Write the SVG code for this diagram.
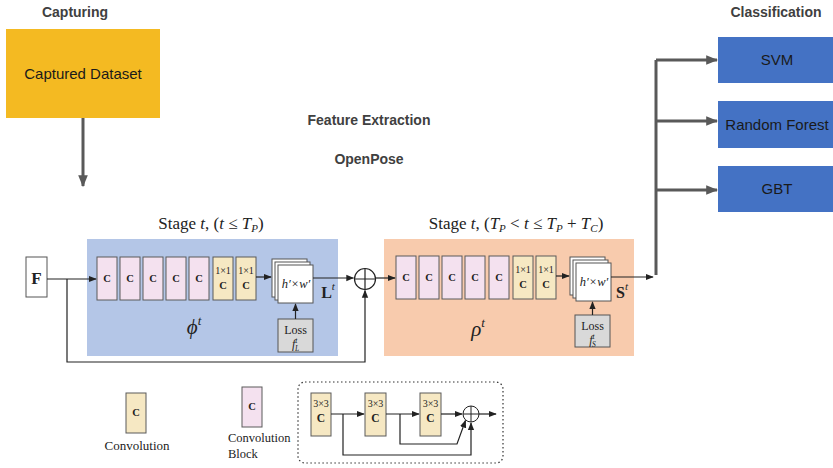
<svg xmlns="http://www.w3.org/2000/svg" width="833" height="468" viewBox="0 0 833 468">
  <style>
    .head { font-family: "Liberation Sans", Arial, sans-serif; font-weight: bold; font-size: 14px; fill: #404040; text-anchor: middle; }
    .lbl { font-family: "Liberation Sans", Arial, sans-serif; font-size: 15px; fill: #1a1a1a; text-anchor: middle; }
    .tex { font-family: "Liberation Serif", "DejaVu Serif", serif; fill: #222; text-anchor: middle; }
    .left { text-anchor: start; }
    .it { font-style: italic; }
    .blk { stroke: #5a5a5a; stroke-width: 1; }
    .pink { fill: #F4E1EF; }
    .yel { fill: #F6E8C3; }
    .sheet { fill: #fff; stroke: #555; stroke-width: 1; }
    .loss { fill: #D9D9D9; stroke: #555; stroke-width: 1; }
    .thin { fill: none; stroke: #222; stroke-width: 1.2; }
    .thick { fill: none; stroke: #595959; stroke-width: 3; }
    .cls { fill: #4472C4; }
  </style>
  <defs>
    <marker id="ah" viewBox="0 0 10 10" refX="9" refY="5" markerWidth="8" markerHeight="8" markerUnits="userSpaceOnUse" orient="auto">
      <path d="M0,1 L10,5 L0,9 z" fill="#222"/>
    </marker>
    <marker id="ahBig" viewBox="0 0 10 10" refX="9" refY="5" markerWidth="12" markerHeight="12" markerUnits="userSpaceOnUse" orient="auto">
      <path d="M0,1 L10,5 L0,9 z" fill="#595959"/>
    </marker>
  </defs>

  <!-- headings -->
  <text class="head" x="75" y="17">Capturing</text>
  <text class="head" x="369" y="125">Feature Extraction</text>
  <text class="head" x="369" y="164">OpenPose</text>
  <text class="head" x="776" y="17">Classification</text>

  <!-- capture source -->
  <g id="captured-dataset">
    <rect x="6" y="29" width="154" height="89" fill="#F4BA22"/>
    <text class="lbl" x="83" y="79">Captured Dataset</text>
  </g>

  <!-- classifiers -->
  <g id="svm">
    <rect class="cls" x="718" y="37" width="115" height="46"/>
    <text class="lbl" x="777" y="65">SVM</text>
  </g>
  <g id="random-forest">
    <rect class="cls" x="718" y="101" width="115" height="47"/>
    <text class="lbl" x="777" y="130">Random Forest</text>
  </g>
  <g id="gbt">
    <rect class="cls" x="718" y="166" width="115" height="46"/>
    <text class="lbl" x="777" y="194">GBT</text>
  </g>

  <!-- stage 1: part affinity fields -->
  <g id="stage-paf">
    <rect x="87" y="239" width="251" height="117" fill="#B4C6E7"/>
    <text class="tex" x="211" y="229" font-size="17">Stage <tspan class="it">t</tspan>, (<tspan class="it">t</tspan> ≤ <tspan class="it">T</tspan><tspan class="it" font-size="11" dy="3">P</tspan><tspan dy="-3">)</tspan></text>
    <g class="blk">
      <rect class="pink" x="97" y="257" width="20" height="43"/>
      <rect class="pink" x="120" y="257" width="20" height="43"/>
      <rect class="pink" x="143" y="257" width="20" height="43"/>
      <rect class="pink" x="166" y="257" width="20" height="43"/>
      <rect class="pink" x="189" y="257" width="20" height="43"/>
      <rect class="yel" x="213" y="257" width="20" height="43"/>
      <rect class="yel" x="236" y="257" width="20" height="43"/>
    </g>
    <g class="tex" font-size="10.5" font-weight="bold">
      <text x="107" y="282">C</text>
      <text x="130" y="282">C</text>
      <text x="153" y="282">C</text>
      <text x="176" y="282">C</text>
      <text x="199" y="282">C</text>
      <text x="223" y="289">C</text>
      <text x="246" y="289">C</text>
    </g>
    <g class="tex" font-size="10">
      <text x="223" y="274">1×1</text>
      <text x="246" y="274">1×1</text>
    </g>
    <rect class="sheet" x="272" y="259" width="35" height="38"/>
    <rect class="sheet" x="275" y="262" width="35" height="38"/>
    <rect class="sheet" x="278" y="265" width="35" height="38"/>
    <text class="tex it" x="296" y="288" font-size="12.5">h′×w′</text>
    <rect class="loss" x="278" y="319" width="35" height="33"/>
    <text class="tex" x="295.5" y="334" font-size="12">Loss</text>
    <text class="tex" x="295.5" y="348" font-size="12"><tspan class="it">f</tspan><tspan class="it" font-size="7.5" dy="-5">t</tspan><tspan class="it" font-size="7.5" dx="-2.5" dy="8">L</tspan></text>
    <text class="tex" x="328" y="298" font-size="16" font-weight="bold">L<tspan font-weight="normal" class="it" font-size="11" dy="-8">t</tspan></text>
    <text class="tex" x="194" y="334" font-size="21" fill="#3a4a7a"><tspan class="it">ϕ</tspan><tspan class="it" font-size="13" dy="-9">t</tspan></text>
  </g>

  <!-- stage 2: confidence maps -->
  <g id="stage-cmap">
    <rect x="384" y="239" width="250" height="117" fill="#F8CBAD"/>
    <text class="tex" x="516" y="229" font-size="17">Stage <tspan class="it">t</tspan>, (<tspan class="it">T</tspan><tspan class="it" font-size="11" dy="3">P</tspan><tspan dy="-3"> &lt; </tspan><tspan class="it">t</tspan> ≤ <tspan class="it">T</tspan><tspan class="it" font-size="11" dy="3">P</tspan><tspan dy="-3"> + </tspan><tspan class="it">T</tspan><tspan class="it" font-size="11" dy="3">C</tspan><tspan dy="-3">)</tspan></text>
    <g class="blk">
      <rect class="pink" x="396" y="256" width="20" height="43"/>
      <rect class="pink" x="419" y="256" width="20" height="43"/>
      <rect class="pink" x="442" y="256" width="20" height="43"/>
      <rect class="pink" x="465" y="256" width="20" height="43"/>
      <rect class="pink" x="489" y="256" width="20" height="43"/>
      <rect class="yel" x="513" y="256" width="20" height="43"/>
      <rect class="yel" x="536" y="256" width="20" height="43"/>
    </g>
    <g class="tex" font-size="10.5" font-weight="bold">
      <text x="406" y="281">C</text>
      <text x="429" y="281">C</text>
      <text x="452" y="281">C</text>
      <text x="475" y="281">C</text>
      <text x="499" y="281">C</text>
      <text x="523" y="288">C</text>
      <text x="546" y="288">C</text>
    </g>
    <g class="tex" font-size="10">
      <text x="523" y="273">1×1</text>
      <text x="546" y="273">1×1</text>
    </g>
    <rect class="sheet" x="570" y="257" width="35" height="38"/>
    <rect class="sheet" x="573" y="260" width="35" height="38"/>
    <rect class="sheet" x="576" y="263" width="35" height="38"/>
    <text class="tex it" x="594" y="286" font-size="12.5">h′×w′</text>
    <rect class="loss" x="575" y="315" width="35" height="32"/>
    <text class="tex" x="592.5" y="330" font-size="12">Loss</text>
    <text class="tex" x="592.5" y="344" font-size="12"><tspan class="it">f</tspan><tspan class="it" font-size="7.5" dy="-5">t</tspan><tspan class="it" font-size="7.5" dx="-2.5" dy="8">S</tspan></text>
    <text class="tex" x="622" y="298" font-size="16" font-weight="bold">S<tspan font-weight="normal" class="it" font-size="11" dy="-8">t</tspan></text>
    <text class="tex" x="478" y="336" font-size="21"><tspan class="it">ρ</tspan><tspan class="it" font-size="13" dy="-9">t</tspan></text>
  </g>

  <!-- input features -->
  <g id="input-f">
    <rect x="26" y="257" width="21" height="40" fill="#fff" stroke="#555" stroke-width="1"/>
    <text class="tex" x="36.5" y="284" font-size="17" font-weight="bold">F</text>
  </g>

  <!-- element-wise sum between stages -->
  <g id="sum">
    <circle cx="365" cy="279" r="10.5" fill="#fff" stroke="#222" stroke-width="1.2"/>
    <path d="M354.5,279 H375.5 M365,268.5 V289.5" stroke="#222" stroke-width="1.2"/>
  </g>

  <!-- legend -->
  <g id="legend-conv">
    <rect class="blk yel" x="126" y="393" width="20" height="40"/>
    <text class="tex" x="136" y="416" font-size="10.5" font-weight="bold">C</text>
    <text class="tex" x="137" y="450" font-size="13">Convolution</text>
  </g>
  <g id="legend-block">
    <rect class="blk pink" x="242" y="387" width="20" height="40"/>
    <text class="tex" x="252" y="410" font-size="10.5" font-weight="bold">C</text>
    <text class="tex left" x="228" y="442" font-size="12.5">Convolution</text>
    <text class="tex left" x="228" y="458" font-size="12.5">Block</text>
  </g>
  <g id="legend-block-detail">
    <rect x="298" y="382" width="205" height="81" rx="7" fill="none" stroke="#333" stroke-width="1.2" stroke-dasharray="1.5,2.5"/>
    <g class="blk">
      <rect class="yel" x="311" y="393" width="20" height="43"/>
      <rect class="yel" x="365" y="393" width="21" height="43"/>
      <rect class="yel" x="420" y="393" width="21" height="43"/>
    </g>
    <g class="tex" font-size="10">
      <text x="321" y="407">3×3</text>
      <text x="375.5" y="407">3×3</text>
      <text x="430.5" y="407">3×3</text>
    </g>
    <g class="tex" font-size="11.5" font-weight="bold">
      <text x="321" y="422">C</text>
      <text x="375.5" y="422">C</text>
      <text x="430.5" y="422">C</text>
    </g>
    <circle cx="471" cy="414" r="8" fill="#fff" stroke="#222" stroke-width="1"/>
    <path d="M463,414 H479 M471,406 V422" stroke="#222" stroke-width="1"/>
  </g>

  <!-- connectors -->
  <g id="connectors">
    <line class="thick" x1="83" y1="118" x2="83" y2="186" marker-end="url(#ahBig)"/>
    <path class="thick" d="M656,275 V60"/>
    <line class="thick" x1="656" y1="60" x2="717" y2="60" marker-end="url(#ahBig)"/>
    <line class="thick" x1="656" y1="121" x2="717" y2="121" marker-end="url(#ahBig)"/>
    <line class="thick" x1="656" y1="190" x2="717" y2="190" marker-end="url(#ahBig)"/>

    <line class="thin" x1="47" y1="279" x2="96" y2="279" marker-end="url(#ah)"/>
    <path class="thin" d="M67,279 V362 H365 V290.5" marker-end="url(#ah)"/>
    <line class="thin" x1="256" y1="277" x2="271" y2="277" marker-end="url(#ah)"/>
    <line class="thin" x1="313" y1="278" x2="353.5" y2="278" marker-end="url(#ah)"/>
    <line class="thin" x1="295.5" y1="319" x2="295.5" y2="304" marker-end="url(#ah)"/>
    <line class="thin" x1="375.5" y1="278" x2="395" y2="278" marker-end="url(#ah)"/>
    <line class="thin" x1="556" y1="276" x2="569" y2="276" marker-end="url(#ah)"/>
    <line class="thin" x1="611" y1="277" x2="653" y2="277" marker-end="url(#ah)"/>
    <line class="thin" x1="592.5" y1="315" x2="592.5" y2="302" marker-end="url(#ah)"/>

    <line class="thin" x1="331" y1="414" x2="364" y2="414" marker-end="url(#ah)"/>
    <line class="thin" x1="386" y1="414" x2="419" y2="414" marker-end="url(#ah)"/>
    <line class="thin" x1="441" y1="414" x2="462" y2="414" marker-end="url(#ah)"/>
    <line class="thin" x1="479" y1="414" x2="496" y2="414" marker-end="url(#ah)"/>
    <path class="thin" d="M343,414 V455 H471 V423" marker-end="url(#ah)"/>
    <path class="thin" d="M400,414 V444 H457 L465.5,420.5" marker-end="url(#ah)"/>
  </g>
</svg>
